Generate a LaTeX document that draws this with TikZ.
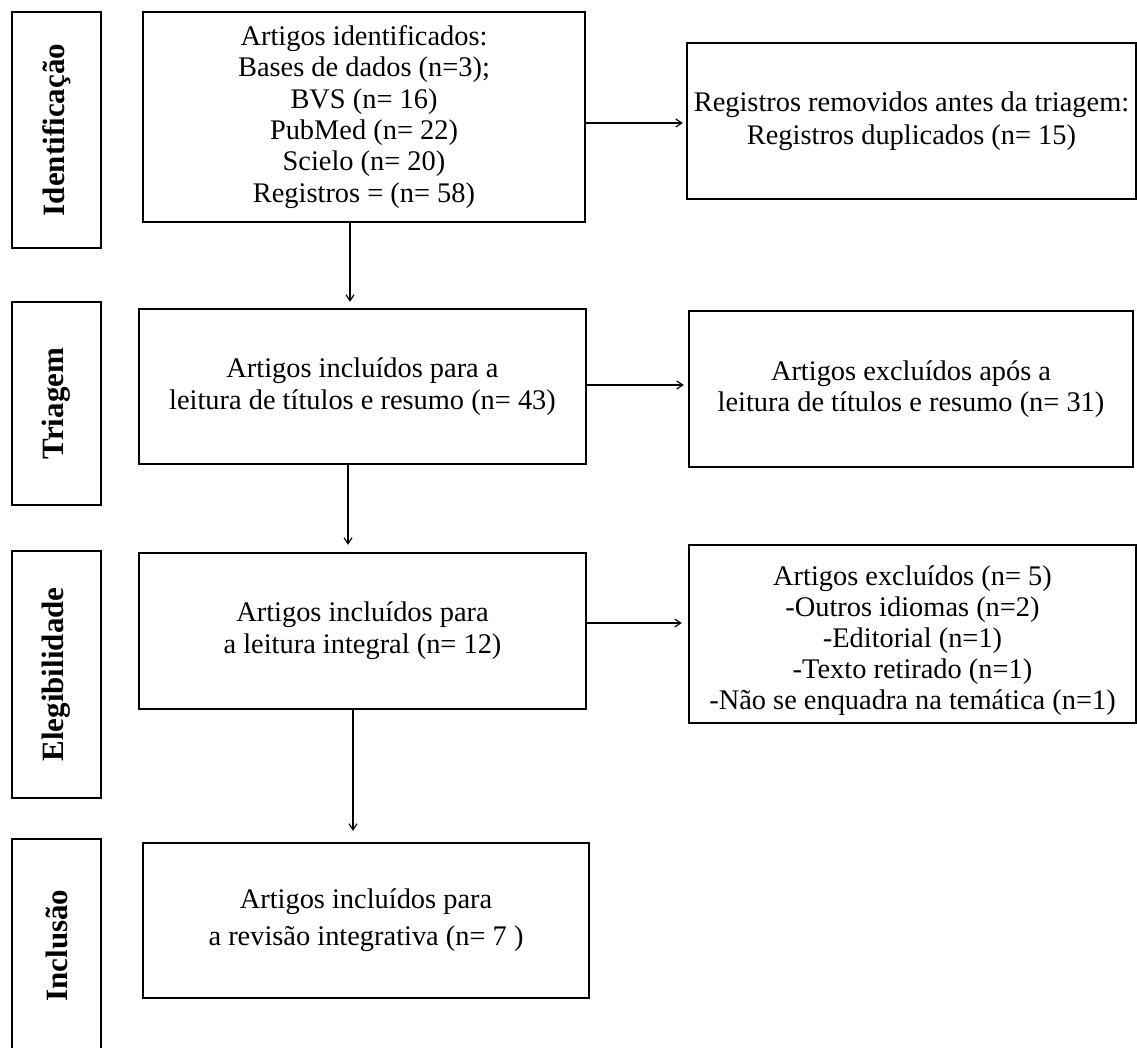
\documentclass[tikz,border=0pt]{standalone}
\usepackage{fontspec}
\setmainfont{Liberation Serif}
\usetikzlibrary{arrows.meta}
\begin{document}
\begin{tikzpicture}[x=0.5pt,y=-0.5pt,
  box/.style={draw=black, line width=1.15pt, fill=white, align=center, inner sep=0pt,
    font=\fontsize{14.2}{16}\selectfont},
  sidebox/.style={draw=black, line width=1.15pt, rotate=90, inner sep=0pt,
    font=\fontsize{15.5}{18}\selectfont\bfseries},
  arr/.style={draw=black, line width=0.6pt, -{Straight Barb[length=3pt,width=4pt]}}]
\useasboundingbox (0,0) rectangle (1137,1048);
\fill[white] (0,0) rectangle (1137,1048);
% side boxes
\node[sidebox, minimum width=118pt, minimum height=44.5pt] (s1) at (56.5,130) {Identificação};
\node[sidebox, minimum width=101.5pt, minimum height=44.5pt] (s2) at (56.5,403.5) {Triagem};
\node[sidebox, minimum width=123.5pt, minimum height=44.5pt] (s3) at (56.5,674.5) {Elegibilidade};
\node[sidebox, minimum width=106.5pt, minimum height=44.5pt] (s4) at (56.5,945.5) {Inclusão};
% main boxes
\node[box, minimum width=221pt, minimum height=105pt, font=\fontsize{14.2}{15.65}\selectfont] (m1) at (364,117)
  {Artigos identificados:\\Bases de dados (n=3);\\BVS (n= 16)\\PubMed (n= 22)\\Scielo (n= 20)\\Registros = (n= 58)};
\node[box, minimum width=223.5pt, minimum height=77.5pt] (m2) at (362.5,386.5)
  {Artigos incluídos para a\\leitura de títulos e resumo (n= 43)};
\node[box, minimum width=223.5pt, minimum height=78pt] (m3) at (362.5,631)
  {Artigos incluídos para\\a leitura integral (n= 12)};
\node[box, minimum width=223pt, minimum height=77.5pt, font=\fontsize{14.2}{18.5}\selectfont] (m4) at (366,920.5)
  {Artigos incluídos para\\a revisão integrativa (n= 7 )};
% right boxes
\node[box, minimum width=224.5pt, minimum height=78pt, font=\fontsize{14.2}{16.5}\selectfont] (r1) at (911.5,121)
  {Registros removidos antes da triagem:\\Registros duplicados (n= 15)};
\node[box, minimum width=222pt, minimum height=78pt, font=\fontsize{14.2}{15.5}\selectfont] (r2) at (911,389)
  {Artigos excluídos após a\\leitura de títulos e resumo (n= 31)};
\node[box, minimum width=223.5pt, minimum height=89pt] (r3) at (912.5,634) {};
\node[align=center, inner sep=0pt, font=\fontsize{14.2}{15.5}\selectfont] (r3t) at ([yshift=-3.5pt]r3.center)
  {Artigos excluídos (n= 5)\\-Outros idiomas (n=2)\\-Editorial (n=1)\\-Texto retirado (n=1)\\-Não se enquadra na temática (n=1)};
% vertical arrows
\draw[arr, shorten >=3pt] (m1.south -| 350,0) -- (m2.north -| 350,0);
\draw[arr, shorten >=3.5pt] (m2.south -| 348,0) -- (m3.north -| 348,0);
\draw[arr, shorten >=5.5pt] (m3.south -| 353,0) -- (m4.north -| 353,0);
% horizontal arrows
\draw[arr, shorten >=1.5pt] (m1.east |- 0,123) -- (r1.west |- 0,123);
\draw[arr, shorten >=2pt] (m2.east |- 0,385) -- (r2.west |- 0,385);
\draw[arr, shorten >=3pt] (m3.east |- 0,623) -- (r3.west |- 0,623);
\end{tikzpicture}
\end{document}
